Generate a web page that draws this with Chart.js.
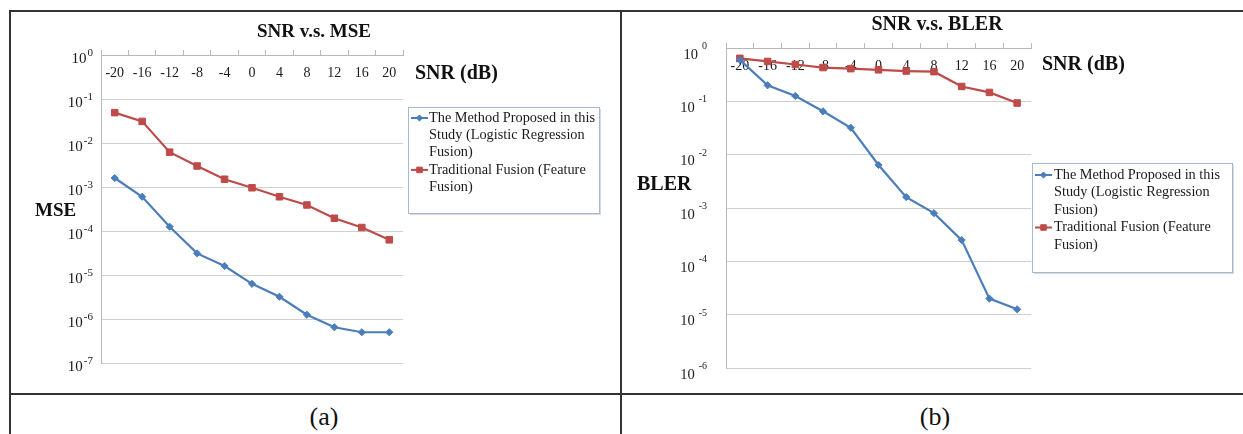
<!DOCTYPE html>
<html>
<head>
<meta charset="utf-8">
<script src="https://cdn.jsdelivr.net/npm/chart.js@4.4.1/dist/chart.umd.min.js"></script>
<style>
  body { margin: 0; background: #fff; }
  #page { position: relative; width: 1243px; height: 434px; overflow: hidden;
          font-family: 'Liberation Serif', 'Times New Roman', serif; color: #111; }
  .rule { position: absolute; background: #333; }
  canvas { position: absolute; }
  .txt { position: absolute; white-space: nowrap; transform: translateY(-50%); }
  .ctr { transform: translate(-50%, -50%); }
  .b { font-weight: bold; }
</style>
</head>
<body>
<div id="page">
  <div class="rule" style="left:9px;top:10px;width:1234px;height:2px"></div>
  <div class="rule" style="left:9px;top:10px;width:2px;height:424px"></div>
  <div class="rule" style="left:620px;top:10px;width:2px;height:424px"></div>
  <div class="rule" style="left:9px;top:393px;width:1234px;height:2px"></div>

  <canvas id="mseChart" width="609" height="381" style="left:11px;top:12px;width:609px;height:381px"></canvas>
  <canvas id="blerChart" width="621" height="381" style="left:622px;top:12px;width:621px;height:381px"></canvas>

  <div class="txt ctr b" style="left:314px;top:31px;font-size:19px">SNR v.s. MSE</div>
  <div class="txt b" style="left:415px;top:72px;font-size:20px">SNR (dB)</div>
  <div class="txt b" style="left:35px;top:210px;font-size:19px">MSE</div>

  <div class="txt ctr b" style="left:937px;top:23px;font-size:20px">SNR v.s. BLER</div>
  <div class="txt b" style="left:1042px;top:63px;font-size:20px">SNR (dB)</div>
  <div class="txt b" style="left:637px;top:183px;font-size:20px">BLER</div>

  <div class="txt ctr" style="left:324px;top:417px;font-size:26px">(a)</div>
  <div class="txt ctr" style="left:935px;top:417px;font-size:26px">(b)</div>
</div>

<script>
// values
const snrLabels = ['-20', '-16', '-12', '-8', '-4', '0', '4', '8', '12', '16', '20'];
const seriesNames = [
    'The Method Proposed in this Study (Logistic Regression Fusion)',
    'Traditional Fusion (Feature Fusion)'
];

const mseProposed = [1.6e-3, 6e-4, 1.25e-4, 3.1e-5, 1.6e-5, 6.3e-6, 3.2e-6, 1.25e-6, 6.5e-7, 5e-7, 5e-7];
const mseTraditional = [0.049, 0.031, 0.0062, 0.003, 0.0015, 0.00096, 0.0006, 0.00039, 0.000195, 0.00012, 0.000063];
const mseTicks = [1, 1e-1, 1e-2, 1e-3, 1e-4, 1e-5, 1e-6, 1e-7];

const blerProposed = [0.6, 0.2, 0.126, 0.065, 0.032, 0.0064, 0.0016, 0.0008, 0.00025, 0.00002, 0.0000126];
const blerTraditional = [0.64, 0.56, 0.49, 0.43, 0.41, 0.39, 0.37, 0.36, 0.19, 0.147, 0.093];
const blerTicks = [1, 1e-1, 1e-2, 1e-3, 1e-4, 1e-5, 1e-6];

const BLUE = '#4a7ebb';
const RED = '#be4b48';
const SERIF = "'Liberation Serif', 'Times New Roman', serif";

Chart.defaults.font.family = SERIF;
Chart.defaults.color = '#222';

// x labels sit just under the top axis line, inside the plot
const innerXLabels = {
    id: 'innerXLabels',
    beforeDatasetsDraw(chart, args, opts) {
        const ctx = chart.ctx;
        const xs = chart.scales.x;
        ctx.save();
        ctx.font = '14px ' + SERIF;
        ctx.fillStyle = '#1a1a1a';
        ctx.textAlign = 'center';
        ctx.textBaseline = 'middle';
        chart.data.labels.forEach((lab, i) => {
            ctx.fillText(lab, xs.getPixelForTick(i), chart.chartArea.top + opts.offset);
        });
        ctx.restore();
    }
};

// "10" with a raised exponent for each decade tick
const powerTicks = {
    id: 'powerTicks',
    afterDraw(chart, args, opts) {
        const ctx = chart.ctx;
        const ys = chart.scales.y;
        const right = chart.chartArea.left - opts.pad;
        ctx.save();
        ctx.fillStyle = '#1a1a1a';
        ctx.textBaseline = 'middle';
        ctx.textAlign = 'left';
        ys.ticks.forEach(t => {
            const y = ys.getPixelForValue(t.value);
            const exp = String(Math.round(Math.log10(t.value)));
            ctx.font = opts.supSize + 'px ' + SERIF;
            const expW = ctx.measureText(exp).width;
            ctx.font = opts.size + 'px ' + SERIF;
            const baseW = ctx.measureText('10').width;
            const x0 = right - expW - opts.gap - baseW;
            ctx.fillText('10', x0, y + opts.baseDy);
            ctx.font = opts.supSize + 'px ' + SERIF;
            ctx.fillText(exp, x0 + baseW + opts.gap, y + opts.supDy);
        });
        ctx.restore();
    }
};

// boxed legend with wrapped entries, like the spreadsheet one
const wrapLegend = {
    id: 'wrapLegend',
    afterDraw(chart, args, opts) {
        const ctx = chart.ctx;
        ctx.save();
        ctx.fillStyle = 'rgba(0,0,0,0.15)';
        ctx.fillRect(opts.x + 2, opts.y + 2, opts.w, opts.h);
        ctx.fillStyle = '#fff';
        ctx.fillRect(opts.x, opts.y, opts.w, opts.h);
        ctx.strokeStyle = '#a3bad6';
        ctx.lineWidth = 1;
        ctx.strokeRect(opts.x + 0.5, opts.y + 0.5, opts.w, opts.h);

        ctx.font = '14.3px ' + SERIF;
        ctx.textBaseline = 'middle';
        let y = opts.firstLine;
        chart.data.datasets.forEach(ds => {
            ctx.strokeStyle = ds.borderColor;
            ctx.fillStyle = ds.borderColor;
            ctx.lineWidth = 2;
            ctx.beginPath();
            ctx.moveTo(opts.sampleX, y);
            ctx.lineTo(opts.sampleX + opts.sampleW, y);
            ctx.stroke();
            ctx.lineWidth = 1;
            Chart.helpers.drawPoint(ctx, { pointStyle: ds.pointStyle, radius: ds.pointRadius * 0.85, borderWidth: 1 },
                opts.sampleX + opts.sampleW / 2, y);

            // simple word wrap
            const words = ds.label.split(' ');
            const lines = [];
            let cur = '';
            words.forEach(w => {
                const test = cur ? cur + ' ' + w : w;
                if (ctx.measureText(test).width > opts.maxWidth && cur) {
                    lines.push(cur);
                    cur = w;
                } else {
                    cur = test;
                }
            });
            lines.push(cur);
            ctx.fillStyle = '#1a1a1a';
            lines.forEach(line => {
                ctx.fillText(line, opts.textX, y);
                y += opts.lineHeight;
            });
        });
        ctx.restore();
    }
};

function makeSeries(proposed, traditional) {
    return [
        {
            label: seriesNames[0], data: proposed,
            borderColor: BLUE, backgroundColor: BLUE, borderWidth: 2.2,
            pointStyle: 'rectRot', pointRadius: 3.6, pointBorderWidth: 1, tension: 0
        },
        {
            label: seriesNames[1], data: traditional,
            borderColor: RED, backgroundColor: RED, borderWidth: 2.2,
            pointStyle: 'rect', pointRadius: 4.6, pointBorderWidth: 1, tension: 0
        }
    ];
}

function renderSnrChart(canvasId, proposed, traditional, ticks, layout) {
    const ctx = document.getElementById(canvasId).getContext('2d');
    return new Chart(ctx, {
        type: 'line',
        data: { labels: snrLabels, datasets: makeSeries(proposed, traditional) },
        plugins: [innerXLabels, powerTicks, wrapLegend],
        options: {
            responsive: false,
            animation: false,
            layout: { padding: layout.padding },
            scales: {
                x: {
                    type: 'category',
                    position: 'top',
                    offset: true,
                    grid: { offset: true, drawOnChartArea: false, drawTicks: true, tickLength: 5, color: '#b8b8b8' },
                    border: { color: '#b8b8b8' },
                    ticks: { display: false },
                    afterFit: s => { s.height = 6; }
                },
                y: {
                    type: 'logarithmic',
                    min: ticks[ticks.length - 1],
                    max: ticks[0],
                    afterBuildTicks: s => { s.ticks = ticks.map(v => ({ value: v })); },
                    afterFit: s => { s.width = 50; },
                    grid: { color: '#cfcfcf', drawTicks: false },
                    border: { color: '#b8b8b8' },
                    ticks: { display: false }
                }
            },
            plugins: {
                legend: { display: false },
                tooltip: { enabled: false },
                innerXLabels: { offset: 18 },
                powerTicks: layout.yLabels,
                wrapLegend: layout.legend
            }
        }
    });
}

renderSnrChart('mseChart', mseProposed, mseTraditional, mseTicks, {
    padding: { left: 40, right: 217, top: 37, bottom: 30 },
    yLabels: { size: 15, supSize: 11, gap: 1, pad: 8, baseDy: 4, supDy: -2 },
    legend: { x: 397, y: 95, w: 191, h: 106, sampleX: 400, sampleW: 17, textX: 418,
              firstLine: 106, lineHeight: 17.3, maxWidth: 178 }
});

renderSnrChart('blerChart', blerProposed, blerTraditional, blerTicks, {
    padding: { left: 54, right: 212, top: 30, bottom: 25 },
    yLabels: { size: 14.5, supSize: 10, gap: 4, pad: 19, baseDy: 7, supDy: -1.5 },
    legend: { x: 410, y: 151, w: 200, h: 109, sampleX: 413, sampleW: 17, textX: 432,
              firstLine: 163, lineHeight: 17.5, maxWidth: 180 }
});
</script>
</body>
</html>
